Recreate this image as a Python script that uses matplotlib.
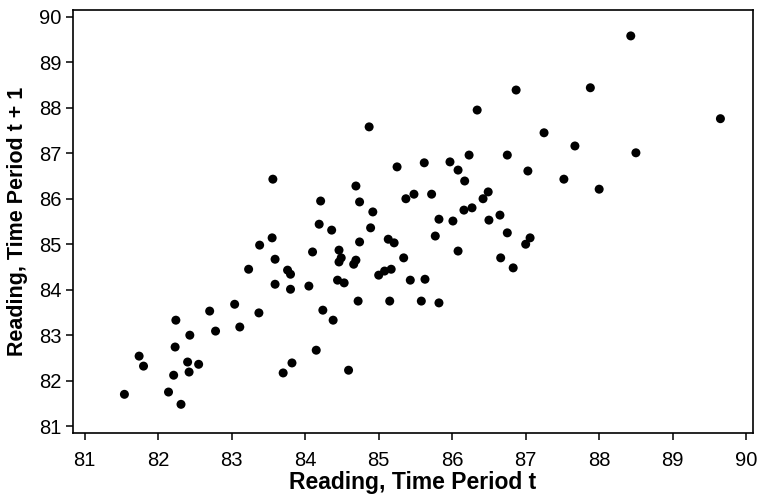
import matplotlib
matplotlib.use("Agg")
import matplotlib.pyplot as plt

# readings at period t and the following period t + 1
reading_t = [
    83.56, 83.55, 83.38, 83.59, 84.10, 83.23, 83.76, 83.80, 83.59, 83.80,
    84.05, 83.04, 82.70, 83.37, 82.24, 82.78, 83.11, 82.43, 82.23, 81.74,
    81.80, 82.40, 82.55, 82.42, 82.21, 84.15, 83.82, 83.70, 81.54, 82.14,
    82.31, 84.21, 84.74, 85.37, 84.92, 84.19, 84.36, 84.89, 84.74, 85.13,
    85.21, 84.46, 84.49, 84.46, 84.69, 84.66, 85.34, 85.00, 85.08, 85.17,
    84.44, 84.53, 85.43, 85.63, 84.72, 85.15, 85.58, 85.82, 84.24, 84.38,
    84.59, 85.82, 86.01, 86.16, 86.27, 86.49, 86.42, 86.50, 86.65, 85.77,
    86.08, 86.75, 87.06, 87.00, 86.66, 86.83, 86.87, 86.34, 84.87, 87.25,
    85.25, 85.62, 85.97, 86.08, 86.23, 86.75, 87.03, 86.17, 84.69, 85.48,
    85.72, 88.43, 87.88, 89.65, 87.67, 88.50, 87.52, 88.00,
]
reading_t1 = [
    86.43, 85.14, 84.98, 84.67, 84.83, 84.45, 84.43, 84.34, 84.12, 84.01,
    84.08, 83.68, 83.53, 83.49, 83.33, 83.09, 83.18, 83.00, 82.74, 82.54,
    82.32, 82.41, 82.36, 82.19, 82.12, 82.67, 82.39, 82.17, 81.70, 81.75,
    81.48, 85.95, 85.93, 86.00, 85.71, 85.44, 85.31, 85.36, 85.05, 85.11,
    85.03, 84.87, 84.70, 84.61, 84.65, 84.56, 84.70, 84.32, 84.41, 84.45,
    84.21, 84.15, 84.21, 84.23, 83.75, 83.75, 83.75, 83.71, 83.55, 83.33,
    82.23, 85.55, 85.51, 85.75, 85.80, 86.15, 86.00, 85.53, 85.64, 85.18,
    84.85, 85.25, 85.14, 85.00, 84.70, 84.48, 88.39, 87.95, 87.58, 87.45,
    86.70, 86.79, 86.81, 86.63, 86.96, 86.96, 86.61, 86.39, 86.28, 86.10,
    86.10, 89.58, 88.44, 87.76, 87.16, 87.01, 86.43, 86.21,
]
ticks = list(range(81, 91))

plt.rcParams['font.family'] = ['Liberation Sans', 'DejaVu Sans']

fig = plt.figure(figsize=(7.57, 4.99), dpi=100)
ax = fig.add_axes([0.0964, 0.1323, 0.898, 0.8477])

ax.scatter(reading_t, reading_t1, s=42, color='black', edgecolors='none', zorder=3)

ax.set_xlim(80.84, 90.09)
ax.set_ylim(80.85, 90.15)
ax.set_xticks(ticks)
ax.set_yticks(ticks)
ax.tick_params(direction='out', length=5, width=1.1, labelsize=14.5, color='black')
ax.tick_params(axis='x', pad=8)
ax.tick_params(axis='y', pad=3)

for side in ax.spines.values():
    side.set_linewidth(1.2)
    side.set_color('black')

ax.set_xlabel('Reading, Time Period t', fontsize=16.5, fontweight='bold', labelpad=1)
ax.set_ylabel('Reading, Time Period t + 1', fontsize=15.5, fontweight='bold', labelpad=8)

fig.savefig('out.png', dpi=100)
